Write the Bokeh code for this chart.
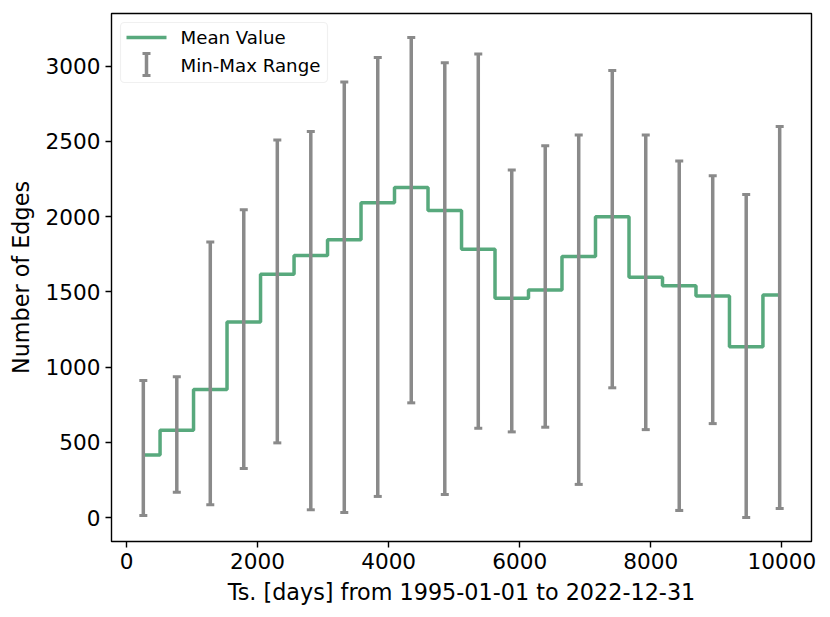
from bokeh.plotting import figure
from bokeh.models import Range1d, FixedTicker, Label, Arrow, TeeHead, BoxAnnotation, ColumnDataSource
from bokeh.embed import file_html
from bokeh.resources import INLINE

# ---- data ----
bin_centers = [256, 767, 1278, 1789, 2301, 2812, 3323, 3834, 4345, 4857,
               5368, 5879, 6390, 6901, 7413, 7924, 8435, 8946, 9457, 9968]
mean_values = [416, 580, 851, 1300, 1617, 1741, 1846, 2091, 2193, 2040,
               1782, 1457, 1512, 1735, 1998, 1596, 1541, 1472, 1135, 1479]
max_values = [911, 935, 1831, 2045, 2508, 2565, 2894, 3057, 3190, 3022,
              3080, 2309, 2471, 2542, 2971, 2542, 2369, 2271, 2147, 2598]
min_values = [13, 167, 84, 326, 496, 51, 33, 140, 762, 153,
              593, 569, 600, 220, 862, 584, 47, 624, 0, 60]
x_ticks = [0, 2000, 4000, 6000, 8000, 10000]
y_ticks = [0, 500, 1000, 1500, 2000, 2500, 3000]

GREEN = "#58a97d"
GRAY = "#8a8a8a"
FONT = "DejaVu Sans"

W, H = 828, 615
BL, BR, BT, BB = 111, 17, 13, 74
FRAME_H = H - BT - BB

# matplotlib-like 5% margins
xmin, xmax = min(bin_centers), max(bin_centers)
ymin, ymax = min(min_values), max(max_values)
xpad = 0.05 * (xmax - xmin)
ypad = 0.05 * (ymax - ymin)

p = figure(width=W, height=H, output_backend="svg", toolbar_location=None,
           x_range=Range1d(xmin - xpad, xmax + xpad),
           y_range=Range1d(ymin - ypad, ymax + ypad),
           min_border_left=BL, min_border_right=BR, min_border_top=BT, min_border_bottom=BB)

p.grid.visible = False
p.outline_line_color = "black"
p.outline_line_width = 1.4
p.background_fill_color = "white"
p.border_fill_color = "white"

for ax in (p.xaxis[0], p.yaxis[0]):
    ax.axis_line_color = None
    ax.major_tick_line_color = "black"
    ax.major_tick_line_width = 1.4
    ax.major_tick_out = 6
    ax.major_tick_in = 0
    ax.minor_tick_line_color = None
    ax.major_label_text_font = FONT
    ax.major_label_text_font_size = "21.6px"
    ax.major_label_text_color = "black"
    ax.axis_label_text_font = FONT
    ax.axis_label_text_font_size = "22.3px"
    ax.axis_label_text_font_style = "normal"
    ax.axis_label_text_color = "black"
    ax.major_label_standoff = 5

p.xaxis[0].ticker = FixedTicker(ticks=x_ticks)
p.yaxis[0].ticker = FixedTicker(ticks=y_ticks)
p.xaxis[0].axis_label = "Ts. [days] from 1995-01-01 to 2022-12-31"
p.yaxis[0].axis_label = "Number of Edges"
p.xaxis[0].axis_label_standoff = 7
p.yaxis[0].axis_label_standoff = 9

src = ColumnDataSource(dict(x=bin_centers, mean=mean_values, lo=min_values, hi=max_values))

# mean value step line
p.step("x", "mean", source=src, mode="center", line_color=GREEN, line_width=3.5)

# min-max error bars
p.segment(x0="x", y0="lo", x1="x", y1="hi", source=src, line_color=GRAY, line_width=3.5)
p.scatter("x", "hi", source=src, marker="dash", size=8, line_color=GRAY, line_width=3)
p.scatter("x", "lo", source=src, marker="dash", size=8, line_color=GRAY, line_width=3)

# ---- manual legend (screen units: x from frame left, y measured down from frame top) ----
def sy(v):
    return FRAME_H - v

box = BoxAnnotation(left=9, right=216, top=sy(9), bottom=sy(69),
                    left_units="screen", right_units="screen", top_units="screen", bottom_units="screen",
                    fill_color="white", fill_alpha=0.8, line_color="#cccccc", line_width=1.2,
                    border_radius=4)
p.add_layout(box)
p.add_layout(Arrow(x_start=15, y_start=sy(24), x_end=55, y_end=sy(24),
                   start_units="screen", end_units="screen", start=None, end=None,
                   line_color=GREEN, line_width=3.5))
p.add_layout(Arrow(x_start=35, y_start=sy(40), x_end=35, y_end=sy(62),
                   start_units="screen", end_units="screen",
                   start=TeeHead(size=8, line_color=GRAY, line_width=3),
                   end=TeeHead(size=8, line_color=GRAY, line_width=3),
                   line_color=GRAY, line_width=3.5))
p.add_layout(Label(x=69, y=sy(24), x_units="screen", y_units="screen", text="Mean Value",
                   text_font=FONT, text_font_size="18.2px", text_baseline="middle", text_color="black"))
p.add_layout(Label(x=69, y=sy(51.5), x_units="screen", y_units="screen", text="Min-Max Range",
                   text_font=FONT, text_font_size="18.2px", text_baseline="middle", text_color="black"))

open("out.html", "w").write(file_html(p, INLINE))
